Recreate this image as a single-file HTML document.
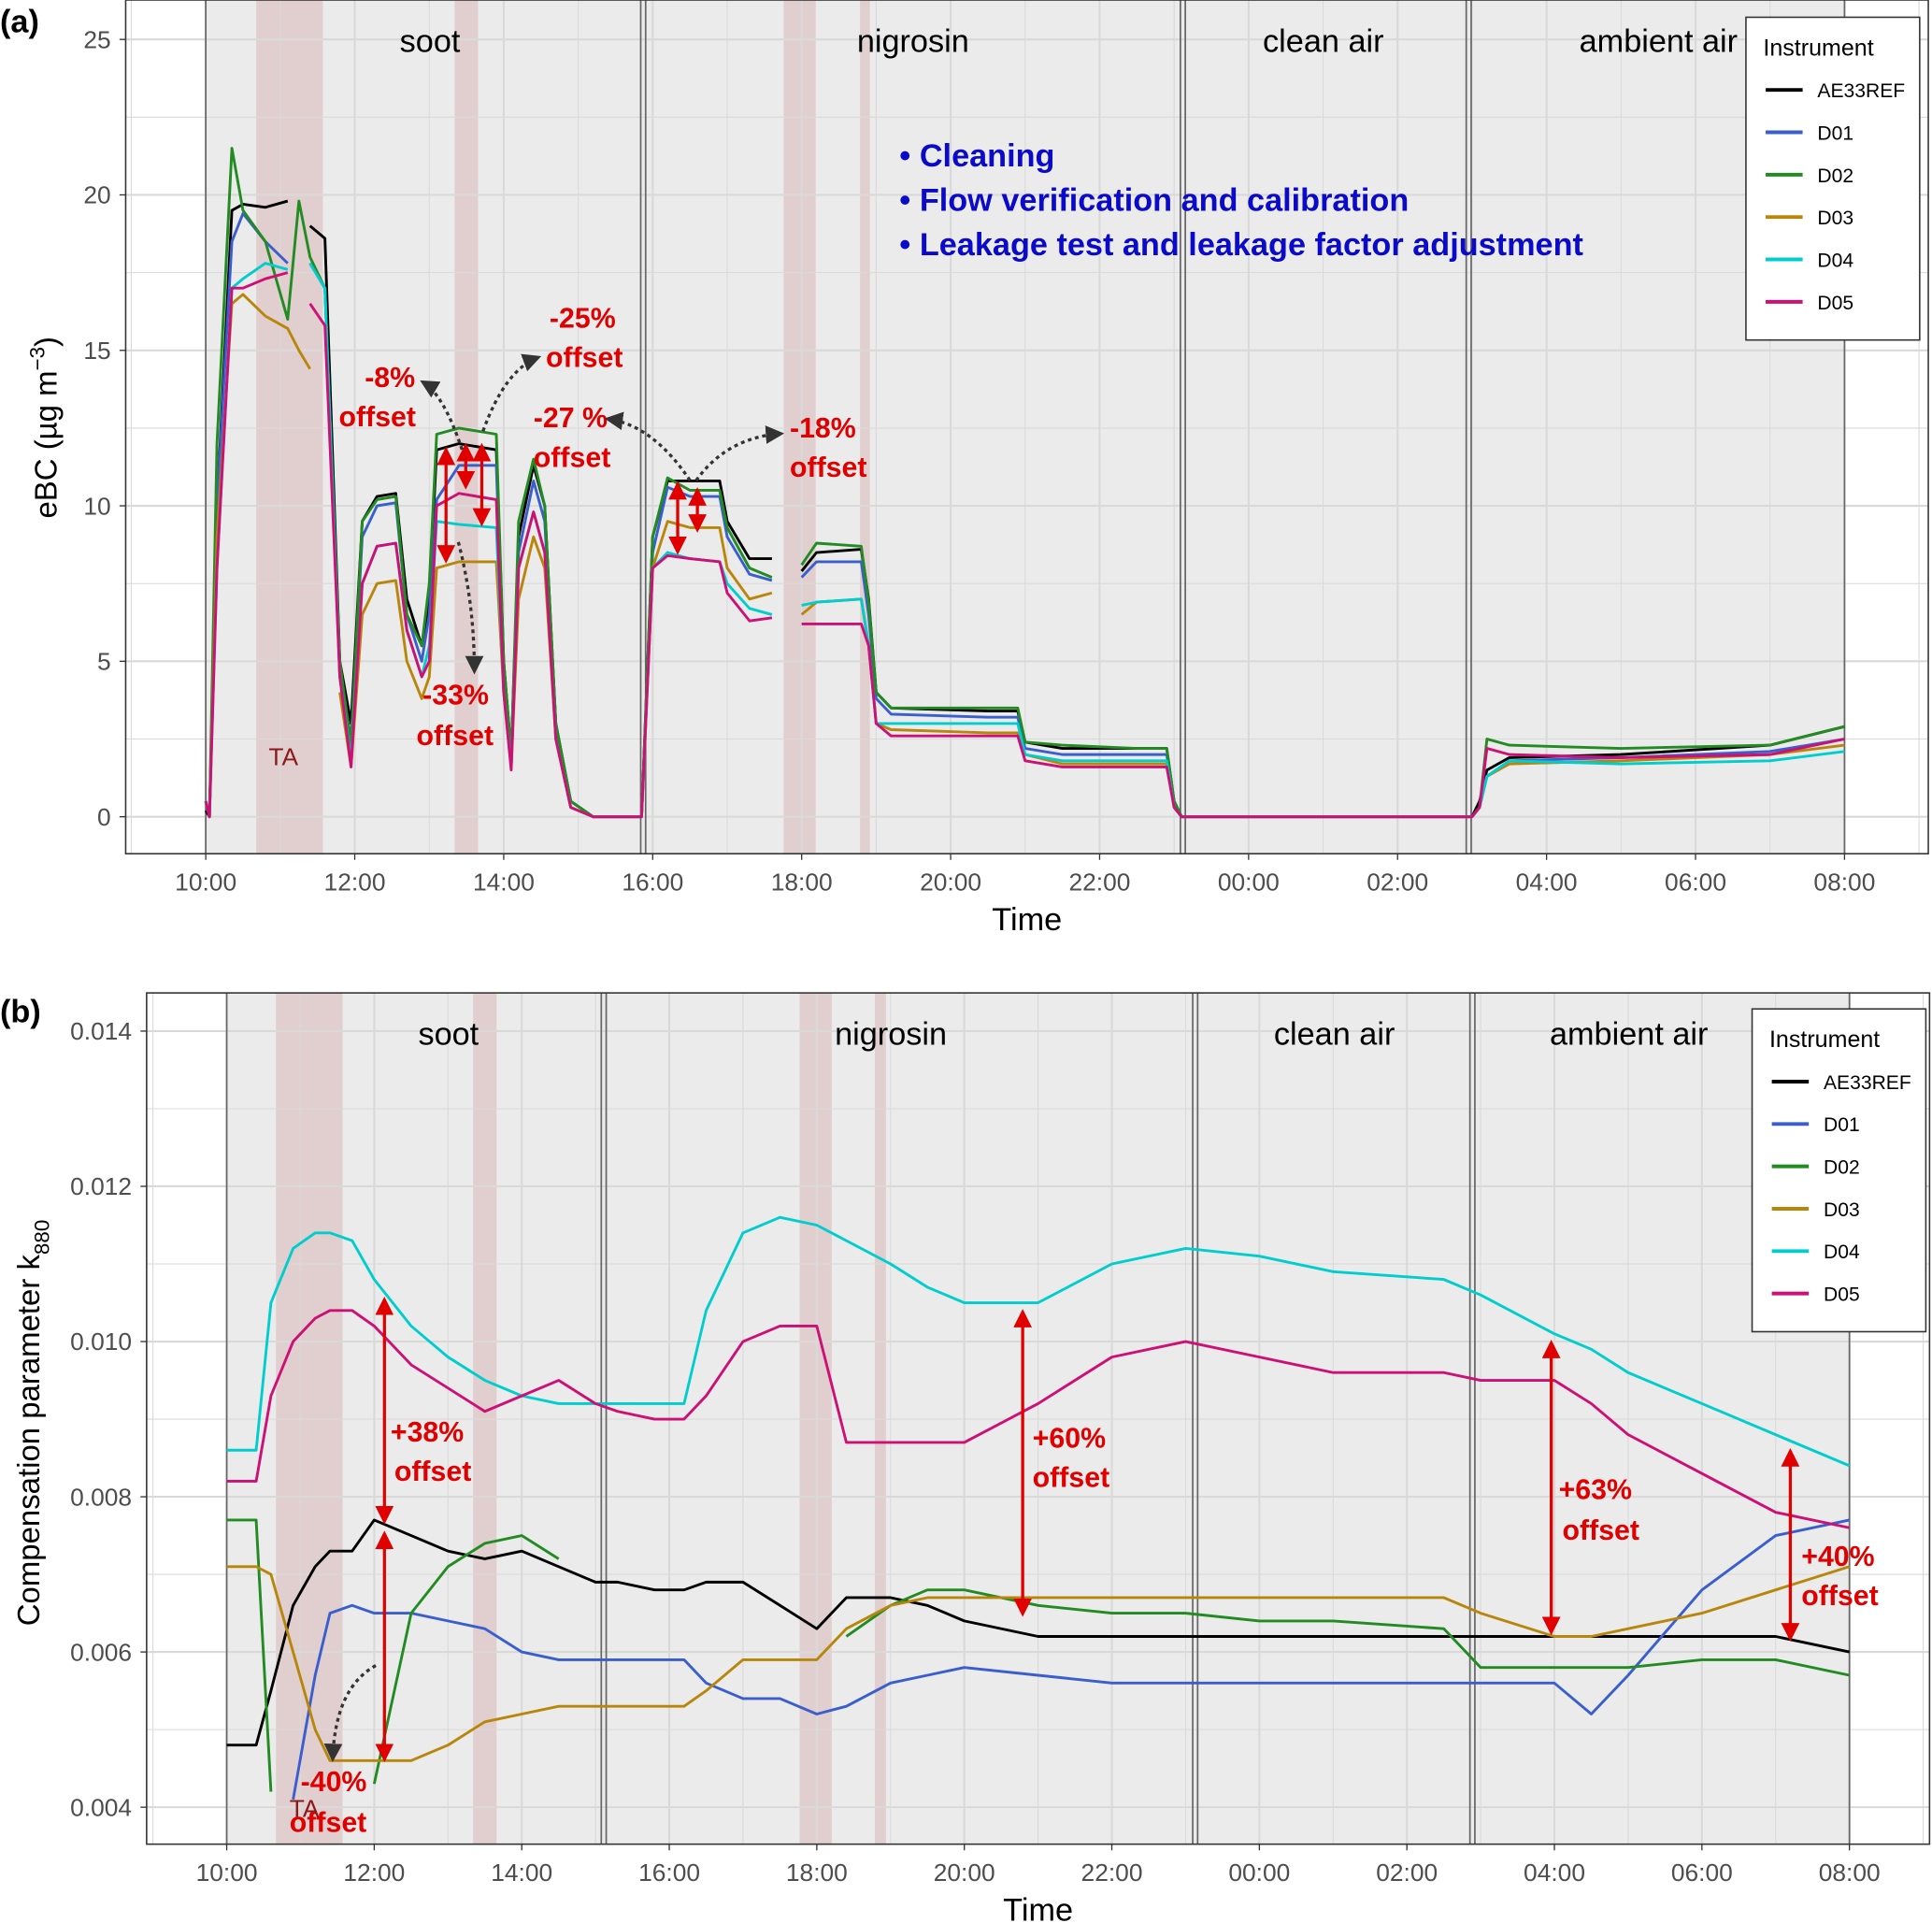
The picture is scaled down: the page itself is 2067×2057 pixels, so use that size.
<!DOCTYPE html>
<html><head><meta charset="utf-8"><style>
html,body{margin:0;padding:0;background:#fff;}
svg{display:block;font-family:"Liberation Sans",sans-serif;}
</style></head><body>
<svg id="fig" width="2067" height="2057" viewBox="0 0 1568 1561" preserveAspectRatio="none" xmlns="http://www.w3.org/2000/svg"></svg>
<script>
// ---------- Panel (a) data (hours since 10:00, eBC in µg m-3) ----------
const timesA = [0,0.05,0.15,0.35,0.5,0.8,1.1,1.25,1.4,1.6,1.8,1.95,2.1,2.3,2.55,2.7,2.9,3.0,3.1,3.4,3.9,4.0,4.1,4.2,4.4,4.55,4.7,4.9,5.2,5.7,5.85,6.0,6.2,6.5,6.9,7.0,7.3,7.6,7.75,8.0,8.2,8.8,8.9,9.0,9.2,10.5,10.9,11.0,11.5,12.5,12.9,13.0,13.1,17.0,17.1,17.2,17.5,19,21,22];
const ae33A = [0.2,0,10,19.5,19.7,19.6,19.8,null,19,18.6,5,3,9.5,10.3,10.4,7,5.5,7,11.8,12,11.8,5,2,9,11.3,10,3,0.5,0,0,0,9,10.8,10.8,10.8,9.5,8.3,8.3,null,7.9,8.5,8.6,7,4,3.5,3.4,3.4,2.4,2.2,2.2,2.2,0.5,0,0,0.5,1.5,1.9,2.0,2.3,2.9];
const d01A = [0.5,0,10,18.5,19.4,18.5,17.8,null,17.8,17,4.5,2.5,9,10,10.1,6.5,5,6.5,10.2,11.3,11.3,4.5,2,8.5,10.8,9.5,3,0.5,0,0,0,8.5,10.6,10.3,10.3,9,7.8,7.6,null,7.7,8.2,8.2,6.5,3.8,3.3,3.2,3.2,2.2,2.0,2.0,2.0,0.5,0,0,0.3,1.3,1.8,1.9,2.1,2.5];
const d02A = [0.5,0,12,21.5,19.5,18.5,16,19.8,18.0,17,5,2.3,9.5,10.2,10.3,6.5,5.5,7.5,12.3,12.5,12.3,5,2,9.5,11.5,10,3,0.5,0,0,0,9,10.9,10.5,10.5,9.3,8.0,7.7,null,8.1,8.8,8.7,6.9,4,3.5,3.5,3.5,2.4,2.3,2.2,2.2,0.5,0,0,0.3,2.5,2.3,2.2,2.3,2.9];
const d03A = [0.5,0,9,16.5,16.8,16.1,15.7,15.0,14.4,null,4,1.6,6.5,7.5,7.6,5,3.8,4.5,8,8.2,8.2,4,1.6,7,9,8,2.5,0.3,0,0,0,8,9.5,9.3,9.3,8,7.0,7.2,null,6.5,6.9,7.0,5.5,3,2.8,2.7,2.7,2.0,1.7,1.7,1.7,0.3,0,0,0.3,1.3,1.7,1.8,2.0,2.3];
const d04A = [0.5,0,8,17,17.3,17.8,17.6,null,17.8,17,4.5,1.8,7.5,8.7,8.8,6,4.5,5.5,9.5,9.4,9.3,4,1.6,8,9.8,8.5,2.5,0.3,0,0,0,8,8.5,8.3,8.2,7.5,6.7,6.5,null,6.8,6.9,7.0,5.5,3,3,3,3,2.0,1.8,1.8,1.8,0.3,0,0,0.3,1.3,1.8,1.7,1.8,2.1];
const d05A = [0.5,0,8,17,17,17.3,17.5,null,16.5,15.8,4.5,1.6,7.5,8.7,8.8,6,4.5,5,10,10.4,10.2,4,1.5,8,9.8,8.5,2.5,0.3,0,0,0,8,8.4,8.3,8.2,7.2,6.3,6.4,null,6.2,6.2,6.2,5.5,3,2.6,2.6,2.6,1.8,1.6,1.6,1.6,0.3,0,0,0.3,2.2,2.0,1.9,2.0,2.5];
const yTicksA = [0,5,10,15,20,25];
// ---------- Panel (b) data (k880 x 1000) ----------
const timesB = [0,0.4,0.6,0.9,1.2,1.4,1.7,2.0,2.5,3.0,3.5,4.0,4.5,5.0,5.3,5.8,6.2,6.5,7.0,7.5,8.0,8.4,9.0,9.5,10.0,11.0,12.0,13.0,14.0,15.0,16.5,17.0,18.0,18.5,19.0,20.0,21.0,22.0];
const ae33B = [4.8,4.8,5.5,6.6,7.1,7.3,7.3,7.7,7.5,7.3,7.2,7.3,7.1,6.9,6.9,6.8,6.8,6.9,6.9,6.6,6.3,6.7,6.7,6.6,6.4,6.2,6.2,6.2,6.2,6.2,6.2,6.2,6.2,6.2,6.2,6.2,6.2,6.0];
const d01B = [null,null,null,4.1,5.7,6.5,6.6,6.5,6.5,6.4,6.3,6.0,5.9,5.9,5.9,5.9,5.9,5.6,5.4,5.4,5.2,5.3,5.6,5.7,5.8,5.7,5.6,5.6,5.6,5.6,5.6,5.6,5.6,5.2,5.7,6.8,7.5,7.7];
const d02B = [7.7,7.7,4.2,null,null,null,null,4.3,6.5,7.1,7.4,7.5,7.2,null,null,null,null,null,null,null,null,6.2,6.6,6.8,6.8,6.6,6.5,6.5,6.4,6.4,6.3,5.8,5.8,5.8,5.8,5.9,5.9,5.7];
const d03B = [7.1,7.1,7.0,6.0,5.0,4.6,4.6,4.6,4.6,4.8,5.1,5.2,5.3,5.3,5.3,5.3,5.3,5.5,5.9,5.9,5.9,6.3,6.6,6.7,6.7,6.7,6.7,6.7,6.7,6.7,6.7,6.5,6.2,6.2,6.3,6.5,6.8,7.1];
const d04B = [8.6,8.6,10.5,11.2,11.4,11.4,11.3,10.8,10.2,9.8,9.5,9.3,9.2,9.2,9.2,9.2,9.2,10.4,11.4,11.6,11.5,11.3,11.0,10.7,10.5,10.5,11.0,11.2,11.1,10.9,10.8,10.6,10.1,9.9,9.6,9.2,8.8,8.4];
const d05B = [8.2,8.2,9.3,10.0,10.3,10.4,10.4,10.2,9.7,9.4,9.1,9.3,9.5,9.2,9.1,9.0,9.0,9.3,10.0,10.2,10.2,8.7,8.7,8.7,8.7,9.2,9.8,10.0,9.8,9.6,9.6,9.5,9.5,9.2,8.8,8.3,7.8,7.6];
const yTicksB = [4,6,8,10,12,14];
const yTickLabelsB = ["0.004","0.006","0.008","0.010","0.012","0.014"];
const xTickLabels = ["10:00","12:00","14:00","16:00","18:00","20:00","22:00","00:00","02:00","04:00","06:00","08:00"];
const seriesNames = ["AE33REF","D01","D02","D03","D04","D05"];
const colors = ["#000000","#3a5fcd","#228b22","#b8860b","#00cdcd","#cd1076"];

const NS="http://www.w3.org/2000/svg";
const svg=document.getElementById('fig');
function el(tag,attrs,parent,text){const e=document.createElementNS(NS,tag);for(const k in attrs)e.setAttribute(k,attrs[k]);if(text!==undefined)e.textContent=text;(parent||svg).appendChild(e);return e;}

function panel(cfg){
  const g=el('g',{});
  
  
  const X=t=>cfg.x0+t*(cfg.x1-cfg.x0)/22;
  const Y=v=>cfg.yA+(v-cfg.vA)*(cfg.yB-cfg.yA)/(cfg.vB-cfg.vA);
  el('rect',{x:cfg.L,y:cfg.T,width:cfg.R-cfg.L,height:cfg.B-cfg.T,fill:'#fff'},g);
  el('rect',{x:cfg.x0,y:cfg.T,width:cfg.x1-cfg.x0,height:cfg.B-cfg.T,fill:'#ebebeb'},g);
  cfg.ta.forEach(r=>el('rect',{x:r[0],y:cfg.T,width:r[1]-r[0],height:cfg.B-cfg.T,fill:'#d9b8b8',opacity:0.55},g));
  for(let h=-1;h<=23;h++){const x=X(h);if(x<cfg.L||x>cfg.R)continue;el('line',{x1:x,x2:x,y1:cfg.T,y2:cfg.B,stroke:'#d9d9d9','stroke-width':h%2===0?1.6:0.8},g);}
  cfg.gridY.forEach((v,i)=>{const y=Y(v);if(y<cfg.T||y>cfg.B)return;el('line',{x1:cfg.L,x2:cfg.R,y1:y,y2:y,stroke:'#d9d9d9','stroke-width':i%2===0?1.6:0.8},g);});
  cfg.bounds.forEach(x=>el('line',{x1:x,x2:x,y1:cfg.T,y2:cfg.B,stroke:'#666','stroke-width':1.3},g));
  el('rect',{x:cfg.L,y:cfg.T,width:cfg.R-cfg.L,height:cfg.B-cfg.T,fill:'none',stroke:'#333','stroke-width':1.2},g);
  xTickLabels.forEach((s,i)=>{const x=X(i*2);el('line',{x1:x,x2:x,y1:cfg.B,y2:cfg.B+5,stroke:'#333'},g);
    const t=el('text',{x:x,y:cfg.B+30,'font-size':20,fill:'#4d4d4d','text-anchor':'middle'},g,s);
    });
  cfg.yTicks.forEach((v,i)=>{const y=Y(v);el('line',{x1:cfg.L-5,x2:cfg.L,y1:y,y2:y,stroke:'#333'},g);
    const t=el('text',{x:cfg.L-12,y:y+7,'font-size':20,fill:'#4d4d4d','text-anchor':'end'},g,cfg.yLabels[i]);
    });
  cfg.periods.forEach(p=>{const t=el('text',{x:p[1],y:cfg.T+42,'font-size':26,'text-anchor':'middle',fill:'#000'},g,p[0]);
    });
  cfg.series.forEach((vals,si)=>{
    let d='',pen=false;
    vals.forEach((v,i)=>{if(v===null){pen=false;return;}d+=(pen?'L':'M')+X(cfg.times[i]).toFixed(1)+','+Y(v).toFixed(1);pen=true;});
    const p=el('path',{d:d,fill:'none',stroke:colors[si],'stroke-width':2.2,'stroke-linejoin':'round'},g);
    
    
  });
  const lg=el('g',{},g);
  
  
  const lx=cfg.leg[0],ly=cfg.leg[1];
  el('rect',{x:lx,y:ly,width:141,height:262,fill:'#fff',stroke:'#333','stroke-width':1.2},lg);
  el('text',{x:lx+14,y:ly+31,'font-size':19},lg,'Instrument');
  seriesNames.forEach((n,i)=>{const yy=ly+59+i*34.4;
    el('line',{x1:lx+16,x2:lx+46,y1:yy,y2:yy,stroke:colors[i],'stroke-width':3},lg);
    const t=el('text',{x:lx+58,y:yy+6,'font-size':16},lg,n);
    });
  const xt=el('text',{x:(cfg.L+cfg.R)/2,y:cfg.B+62,'font-size':26,'text-anchor':'middle'},g,'Time');
  
  return {g,X,Y};
}

const A=panel({name:'panel-a',L:102,R:1565,T:0,B:693,x0:167,x1:1497,yA:663,vA:0,yB:32,vB:25,
  ta:[[208,262],[369,388],[636,662],[698,706]],bounds:[167,520,524,958,962,1190,1194,1497],
  gridY:[0,2.5,5,7.5,10,12.5,15,17.5,20,22.5,25],yTicks:yTicksA,yLabels:yTicksA.map(String),
  periods:[['soot',349],['nigrosin',741],['clean air',1074],['ambient air',1346]],
  times:timesA,series:[ae33A,d01A,d02A,d03A,d04A,d05A],leg:[1417,14]});
const B=panel({name:'panel-b',L:119,R:1566,T:806,B:1497,x0:184,x1:1501,yA:1467,vA:4,yB:837,vB:14,
  ta:[[224,278],[384,403],[649,675],[710,719]],bounds:[184,488,492,968,972,1193,1197,1501],
  gridY:[4,5,6,7,8,9,10,11,12,13,14],yTicks:yTicksB,yLabels:yTickLabelsB,
  periods:[['soot',364],['nigrosin',723],['clean air',1083],['ambient air',1322]],
  times:timesB,series:[ae33B,d01B,d02B,d03B,d04B,d05B],leg:[1422,819]});

let t;
t=el('text',{x:0,y:26,'font-size':26,'font-weight':'bold'},svg,'(a)');
t=el('text',{x:0,y:830,'font-size':26,'font-weight':'bold'},svg,'(b)');
t=el('text',{x:0,y:0,'font-size':25,'text-anchor':'middle',transform:'translate(46,347) rotate(-90)'},svg);
t.innerHTML='eBC (µg m<tspan dy="-10" font-size="17">−3</tspan><tspan dy="10">)</tspan>';

t=el('text',{x:0,y:0,'font-size':25,'text-anchor':'middle',transform:'translate(32,1155) rotate(-90)'},svg);
t.innerHTML='Compensation parameter  k<tspan dy="8" font-size="17">880</tspan>';


['Cleaning','Flow verification and calibration','Leakage   test and leakage factor adjustment'].forEach((s,i)=>{
  const tt=el('text',{x:730,y:135+i*36,'font-size':26,'font-weight':'bold',fill:'#0a0ac8'},svg,'•  '+s);
  });

const notes=[[446,266,'-25%'],[443,298,'offset'],[296,314,'-8%'],[275,346,'offset'],[433,347,'-27 %'],[433,379,'offset'],
 [641,355,'-18%'],[641,387,'offset'],[343,572,'-33%'],[338,605,'offset'],
 [317,1170,'+38%'],[320,1202,'offset'],[838,1175,'+60%'],[838,1207,'offset'],[1265,1217,'+63%'],[1268,1250,'offset'],
 [1462,1271,'+40%'],[1462,1303,'offset'],[244,1454,'-40%'],[235,1487,'offset']];
notes.forEach(n=>{const tt=el('text',{x:n[0],y:n[1],'font-size':23,'font-weight':'bold',fill:'#e00000'},svg,n[2]);
  });
t=el('text',{x:218,y:621,'font-size':20,fill:'#8b1a1a'},svg,'TA');
t=el('text',{x:235,y:1475,'font-size':20,fill:'#8b1a1a'},svg,'TA');

const defs=el('defs',{});
const mk=el('marker',{id:'ah',markerWidth:6,markerHeight:6,refX:5,refY:3,orient:'auto-start-reverse'},defs);
el('path',{d:'M0,0L6,3L0,6z',fill:'#e00000'},mk);
const mk2=el('marker',{id:'ag',markerWidth:6,markerHeight:6,refX:5,refY:3,orient:'auto'},defs);
el('path',{d:'M0,0L6,3L0,6z',fill:'#333'},mk2);
[[362,365,455],[378,362,395],[391,362,425],[550,393,448],[566,398,430],[312,1055,1235],[312,1245,1428],[830,1065,1310],[1259,1090,1325],[1453,1178,1330]].forEach(a=>{
  const l=el('line',{x1:a[0],x2:a[0],y1:a[1],y2:a[2],stroke:'#e00000','stroke-width':2.5,'marker-start':'url(#ah)','marker-end':'url(#ah)'},svg);
  });
['M375,365 Q360,320 343,310','M392,350 Q410,300 437,290','M560,390 Q530,345 493,340','M565,390 Q590,355 634,352','M372,440 Q385,490 385,545','M305,1352 Q272,1370 270,1428'].forEach(d=>{
  const p=el('path',{d:d,fill:'none',stroke:'#333','stroke-width':2.5,'stroke-dasharray':'3,3','marker-end':'url(#ag)'},svg);
  });
</script>
</body></html>
